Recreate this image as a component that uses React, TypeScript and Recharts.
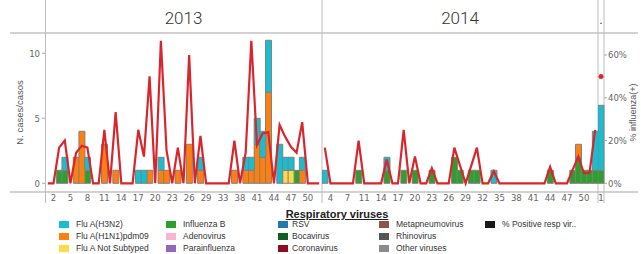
import React from "react";
import { ComposedChart, Bar, Line, XAxis, YAxis } from "recharts";

// ---- data ----
const weeks2013 = [
  1, 2, 3, 4, 5, 6, 7, 8, 9, 10, 11, 12, 13, 14, 15, 16, 17, 18, 19, 20, 21, 22, 23, 24, 25,
  26, 27, 28, 29, 30, 31, 33, 34, 35, 38, 39, 40, 41, 42, 43, 44, 45, 46, 47, 48, 49, 50, 51, 52,
];
const tickWeeks2013 = [2, 5, 8, 11, 14, 17, 20, 23, 26, 29, 33, 38, 41, 44, 47, 50];
const h3n2_2013 = [
  0, 0, 0, 1, 0, 0, 0, 1, 0, 0,
  0, 0, 0, 0, 0, 0, 1, 1, 0, 0,
  1, 0, 0, 0, 0, 0, 0, 1, 0, 0,
  0, 0, 0, 0, 0, 1, 1, 2, 2, 4,
  0, 3, 1, 1, 0, 1, 0, 0, 0,
];
const h1n1_2013 = [
  0, 0, 0, 0, 0, 2, 4, 0, 0, 0,
  3, 0, 1, 0, 0, 0, 0, 0, 1, 0,
  1, 1, 0, 1, 0, 3, 0, 1, 0, 0,
  0, 0, 0, 1, 0, 1, 1, 3, 2, 7,
  0, 0, 0, 0, 0, 1, 0, 0, 0,
];
const notSub_2013 = [
  0, 0, 0, 0, 0, 0, 0, 0, 0, 0,
  0, 0, 0, 0, 0, 0, 0, 0, 0, 0,
  0, 0, 0, 0, 0, 0, 0, 0, 0, 0,
  0, 0, 0, 0, 0, 0, 0, 0, 0, 0,
  0, 0, 1, 1, 0, 0, 0, 0, 0,
];
const fluB_2013 = [
  0, 0, 1, 1, 0, 0, 0, 1, 0, 0,
  0, 0, 0, 0, 0, 0, 0, 0, 0, 0,
  0, 0, 0, 0, 0, 0, 0, 0, 0, 0,
  0, 0, 0, 0, 0, 0, 0, 0, 0, 0,
  0, 0, 0, 0, 1, 0, 0, 0, 0,
];
const pct2013 = [
  0, 0, 16.7, 20, 0, 14.3, 17.6, 16.7, 0, 0,
  25, 0, 33.3, 0, 0, 0, 25, 12.5, 50, 0,
  66.7, 15.4, 0, 16.7, 0, 60, 0, 22.2, 0, 0,
  0, 0, 0, 20, 0, 14.3, 66.7, 17.9, 23.3, 23.9,
  0, 27.3, 21.7, 17.1, 14.3, 28.6, 0, 0, 0,
];

const weeks2014 = [
  1, 4, 5, 6, 7, 8, 9, 11, 12, 13, 14, 15, 16, 17, 18, 19, 20, 21, 22, 23, 24, 25, 26, 27, 28,
  29, 30, 31, 32, 33, 34, 35, 36, 37, 38, 39, 40, 41, 42, 43, 44, 45, 46, 47, 48, 49, 50, 51, 52,
];
const tickWeeks2014 = [4, 7, 11, 14, 17, 20, 23, 26, 29, 32, 35, 38, 41, 44, 47, 50];
const h3n2_2014 = [
  1, 0, 0, 0, 0, 0, 0, 0, 0, 0,
  0, 1, 0, 0, 0, 0, 0, 0, 0, 0,
  0, 0, 0, 0, 0, 0, 0, 0, 0, 0,
  1, 0, 0, 0, 0, 0, 0, 0, 0, 0,
  0, 0, 0, 0, 0, 0, 0, 0, 3,
];
const h1n1_2014 = [
  0, 0, 0, 0, 0, 0, 0, 0, 0, 0,
  0, 0, 0, 0, 0, 0, 0, 0, 0, 0,
  0, 0, 0, 0, 0, 0, 0, 0, 0, 0,
  0, 0, 0, 0, 0, 0, 0, 0, 0, 0,
  0, 0, 0, 0, 0, 1, 0, 0, 0,
];
const notSub_2014 = [
  0, 0, 0, 0, 0, 0, 0, 0, 0, 0,
  0, 0, 0, 0, 0, 0, 0, 0, 0, 0,
  0, 0, 0, 0, 0, 0, 0, 0, 0, 0,
  0, 0, 0, 0, 0, 0, 0, 0, 0, 0,
  0, 0, 0, 0, 0, 0, 0, 0, 0,
];
const fluB_2014 = [
  0, 0, 0, 0, 0, 0, 1, 0, 0, 0,
  0, 1, 0, 0, 1, 0, 1, 0, 0, 1,
  0, 0, 0, 2, 1, 0, 1, 1, 0, 0,
  0, 0, 0, 0, 0, 0, 0, 0, 0, 0,
  1, 0, 0, 0, 1, 2, 1, 1, 1,
];
const pct2014 = [
  16.7, 0, 0, 0, 0, 0, 20, 0, 0, 0,
  0, 11.1, 0, 0, 25, 0, 12.5, 0, 0, 7.1,
  0, 0, 0, 16.7, 8.3, 0, 8.3, 16.7, 0, 0,
  5.6, 0, 0, 0, 0, 0, 0, 0, 0, 0,
  7.7, 0, 0, 0, 6.3, 12.5, 4.8, 5, 25,
];

const weeks2015 = [1];
const tickWeeks2015 = [1];
const h3n2_2015 = [5];
const h1n1_2015 = [0];
const notSub_2015 = [0];
const fluB_2015 = [1];
const pct2015 = [50];

const legendColumns = [
  ["Flu A(H3N2)", "Flu A(H1N1)pdm09", "Flu A Not Subtyped"],
  ["Influenza B", "Adenovirus", "Parainfluenza"],
  ["RSV", "Bocavirus", "Coronavirus"],
  ["Metapneumovirus", "Rhinovirus", "Other viruses"],
  ["% Positive resp vir.."],
];

// ---- styles ----
const COLORS: Record<string, string> = {
  "Flu A(H3N2)": "#17becf",
  "Flu A(H1N1)pdm09": "#ff7f0e",
  "Flu A Not Subtyped": "#ffd94a",
  "Influenza B": "#2ca02c",
  Adenovirus: "#f6b6d0",
  Parainfluenza: "#9467bd",
  RSV: "#1f77b4",
  Bocavirus: "#115e22",
  Coronavirus: "#8c0d24",
  Metapneumovirus: "#8c564b",
  Rhinovirus: "#555555",
  "Other viruses": "#8a8a8a",
  "% Positive resp vir..": "#1a1a1a",
};
const RED = "#d9262d";
const BAR_STROKE = "#808080";
const FONT = "'Liberation Sans', Arial, sans-serif";
const NARROW = "'Liberation Sans Narrow', 'Arial Narrow', 'DejaVu Sans Condensed', 'Liberation Sans', sans-serif";
const HEADER_FONT = "Roboto, 'Liberation Sans', sans-serif";

const CHART_H = 210;
const CASES_DOMAIN = [-0.67, 11.56];
const PCT_DOMAIN = [-4.07, 70.3];

function buildRows(year: number, weeks: number[], h3n2: number[], h1n1: number[], notSub: number[], fluB: number[], pct: number[]) {
  return weeks.map((w, i) => ({
    key: `${year}-${w}`,
    fluB: fluB[i],
    notSub: notSub[i],
    h1n1: h1n1[i],
    h3n2: h3n2[i],
    pct: pct[i],
  }));
}

const rows2013 = buildRows(2013, weeks2013, h3n2_2013, h1n1_2013, notSub_2013, fluB_2013, pct2013);
const rows2014 = buildRows(2014, weeks2014, h3n2_2014, h1n1_2014, notSub_2014, fluB_2014, pct2014);
const rows2015 = buildRows(2015, weeks2015, h3n2_2015, h1n1_2015, notSub_2015, fluB_2015, pct2015);

interface PanelProps {
  year: number;
  header: string;
  rows: ReturnType<typeof buildRows>;
  tickWeeks: number[];
  left: number;
  width: number;
  showCases?: boolean;
  showPct?: boolean;
  dotOnly?: boolean;
}

function YearPanel({ year, header, rows, tickWeeks, left, width, showCases, showPct, dotOnly }: PanelProps) {
  const mid = rows[Math.floor((rows.length - 1) / 2)].key;
  const tickStyle = { fill: "#666", fontSize: 9.5, fontFamily: NARROW };
  return (
    <div style={{ position: "absolute", left, top: 0 }}>
      <ComposedChart
        width={width}
        height={CHART_H}
        data={rows}
        margin={{ top: 0, right: 0, bottom: 0, left: 0 }}
        barCategoryGap={0}
        barGap={0}
      >
        <XAxis
          xAxisId="year"
          orientation="top"
          dataKey="key"
          ticks={[mid]}
          interval={0}
          tickFormatter={() => header}
          height={33}
          axisLine={false}
          tickLine={false}
          tickSize={0}
          tickMargin={9}
          tick={{ fill: "#333", fontSize: 17, fontWeight: 300, fontFamily: HEADER_FONT }}
        />
        <XAxis
          dataKey="key"
          ticks={tickWeeks.map((w) => `${year}-${w}`)}
          interval={0}
          tickFormatter={(k: string) => String(k).split("-")[1]}
          height={18}
          axisLine={false}
          tickLine={false}
          tickSize={0}
          tickMargin={2}
          tick={tickStyle}
        />
        <YAxis
          yAxisId="cases"
          domain={CASES_DOMAIN}
          allowDataOverflow
          ticks={[0, 5, 10]}
          hide={!showCases}
          width={45}
          axisLine={false}
          tickSize={3}
          tickMargin={2}
          tickLine={{ stroke: "#aaa" }}
          tick={tickStyle}
          label={{
            value: "N. cases/casos",
            angle: -90,
            position: "insideLeft",
            offset: 20,
            style: { textAnchor: "middle", fill: "#555", fontSize: 9.5, fontFamily: FONT },
          }}
        />
        <YAxis
          yAxisId="pct"
          orientation="right"
          domain={PCT_DOMAIN}
          allowDataOverflow
          ticks={[0, 20, 40, 60]}
          tickFormatter={(v: number) => `${v}%`}
          hide={!showPct}
          width={37}
          axisLine={false}
          tickSize={3}
          tickMargin={1}
          tickLine={{ stroke: "#aaa" }}
          tick={tickStyle}
          label={{
            value: "% influenza(+)",
            angle: -90,
            position: "insideRight",
            offset: 8,
            style: { textAnchor: "middle", fill: "#555", fontSize: 9, fontFamily: FONT },
          }}
        />
        <Bar yAxisId="cases" dataKey="fluB" stackId="v" fill={COLORS["Influenza B"]} stroke={BAR_STROKE} strokeWidth={1} isAnimationActive={false} />
        <Bar yAxisId="cases" dataKey="notSub" stackId="v" fill={COLORS["Flu A Not Subtyped"]} stroke={BAR_STROKE} strokeWidth={1} isAnimationActive={false} />
        <Bar yAxisId="cases" dataKey="h1n1" stackId="v" fill={COLORS["Flu A(H1N1)pdm09"]} stroke={BAR_STROKE} strokeWidth={1} isAnimationActive={false} />
        <Bar yAxisId="cases" dataKey="h3n2" stackId="v" fill={COLORS["Flu A(H3N2)"]} stroke={BAR_STROKE} strokeWidth={1} isAnimationActive={false} />
        <Line
          yAxisId="pct"
          type="linear"
          dataKey="pct"
          stroke={dotOnly ? "none" : RED}
          strokeWidth={2.2}
          dot={dotOnly ? { r: 2.5, fill: RED, stroke: "none" } : false}
          activeDot={false}
          isAnimationActive={false}
        />
      </ComposedChart>
    </div>
  );
}

function Frame() {
  const vx = [45.5, 322, 598, 604];
  return (
    <svg width={641} height={254} style={{ position: "absolute", left: 0, top: 0 }}>
      <line x1={10} x2={638} y1={33} y2={33} stroke="#d2d2d2" strokeWidth={2} />
      <line x1={10} x2={638} y1={192} y2={192} stroke="#d2d2d2" strokeWidth={2} />
      {vx.map((x) => (
        <line key={x} x1={x} x2={x} y1={0} y2={203} stroke="#bdbdbd" strokeWidth={1} />
      ))}
    </svg>
  );
}

function ViralLegend() {
  const swatchX = [59, 166, 278, 379, 485];
  const textX = [76, 183, 292, 396, 502];
  return (
    <>
      <div
        style={{
          position: "absolute",
          left: 283,
          top: 208,
          width: 108,
          textAlign: "center",
          fontFamily: FONT,
          fontSize: 11,
          fontWeight: "bold",
          textDecoration: "underline",
          color: "#222",
          lineHeight: "12px",
          whiteSpace: "nowrap",
        }}
      >
        Respiratory viruses
      </div>
      {legendColumns.map((col, ci) =>
        col.map((name, ri) => (
          <React.Fragment key={name}>
            <div
              style={{
                position: "absolute",
                left: swatchX[ci],
                top: 221 + ri * 12,
                width: 10,
                height: 7,
                background: COLORS[name],
              }}
            />
            <div
              style={{
                position: "absolute",
                left: textX[ci],
                top: 219 + ri * 12,
                fontFamily: FONT,
                fontSize: 8.5,
                lineHeight: "11px",
                color: "#333",
                whiteSpace: "nowrap",
              }}
            >
              {name}
            </div>
          </React.Fragment>
        ))
      )}
    </>
  );
}

export default function App() {
  return (
    <div style={{ position: "absolute", left: 0, top: 0, width: 641, height: 254, background: "#fff", overflow: "hidden" }}>
      <Frame />
      <YearPanel year={2013} header="2013" rows={rows2013} tickWeeks={tickWeeks2013} left={0} width={322} showCases />
      <YearPanel year={2014} header="2014" rows={rows2014} tickWeeks={tickWeeks2014} left={322} width={276} />
      <YearPanel year={2015} header="." rows={rows2015} tickWeeks={tickWeeks2015} left={598} width={43} showPct dotOnly />
      <ViralLegend />
    </div>
  );
}
